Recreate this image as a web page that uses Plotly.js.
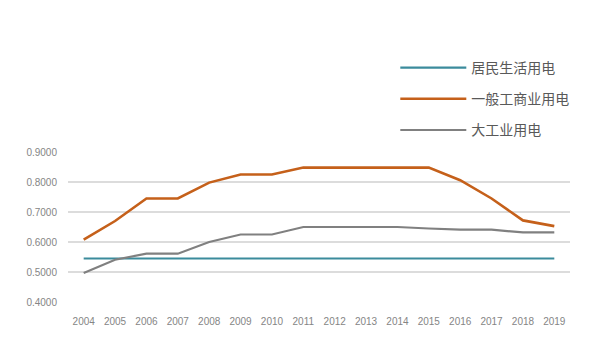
<!DOCTYPE html>
<html><head><meta charset="utf-8">
<script src="https://cdn.plot.ly/plotly-3.0.1.min.js"></script>
<style>html,body{margin:0;padding:0;background:#fff}#chart{width:600px;height:361px}</style>
</head><body><div id="chart"></div>
<script>
const years = ['2004','2005','2006','2007','2008','2009','2010','2011','2012','2013','2014','2015','2016','2017','2018','2019'];
const residential = [0.545,0.545,0.545,0.545,0.545,0.545,0.545,0.545,0.545,0.545,0.545,0.545,0.545,0.545,0.545,0.545];
const commercial = [0.608,0.670,0.745,0.745,0.798,0.825,0.825,0.848,0.848,0.848,0.848,0.848,0.806,0.745,0.672,0.653];
const industrial = [0.497,0.541,0.561,0.561,0.600,0.625,0.625,0.650,0.650,0.650,0.650,0.645,0.641,0.641,0.632,0.632];
const names = ['居民生活用电','一般工商业用电','大工业用电'];
const colors = ['#3b8b9c','#c5601a','#808080'];

const series = [residential, commercial, industrial];
const traces = series.map((s,i)=>({
  x: years, y: s, type:'scatter', mode:'lines', name: names[i],
  legendgroup: 'g'+i,
  line:{color: colors[i], width: i===1?2.6:2.2}
}));

const layout = {
  width:600, height:361,
  margin:{l:68, r:30, t:152, b:59, autoexpand:false},
  paper_bgcolor:'#fff', plot_bgcolor:'#fff',
  font:{family:'"Noto Sans CJK SC", "Liberation Sans", sans-serif', color:'#808080'},
  showlegend:true,
  legend:{x:0.652, y:0.856, xref:'paper', yref:'container', xanchor:'left', yanchor:'top', font:{size:14, color:'#595959'},
          tracegroupgap:10, bgcolor:'rgba(0,0,0,0)', itemwidth:66},
  xaxis:{type:'category', range:[-0.5,15.5], showgrid:false, zeroline:false, showline:false,
         ticks:'', tickfont:{size:10, color:'#858585', family:'"Liberation Sans", sans-serif'}, ticklabelstandoff:12, fixedrange:true},
  yaxis:{range:[0.4,0.9], dtick:0.1, tick0:0.4, tickformat:'.4f', showgrid:true, gridcolor:'#dcdcdc', gridwidth:1.5,
         zeroline:false, showline:false, ticks:'', tickfont:{size:10, color:'#858585', family:'"Liberation Sans", sans-serif'},
         ticklabelstandoff:10, fixedrange:true}
};
Plotly.newPlot('chart', traces, layout, {displayModeBar:false, staticPlot:true});
</script></body></html>
